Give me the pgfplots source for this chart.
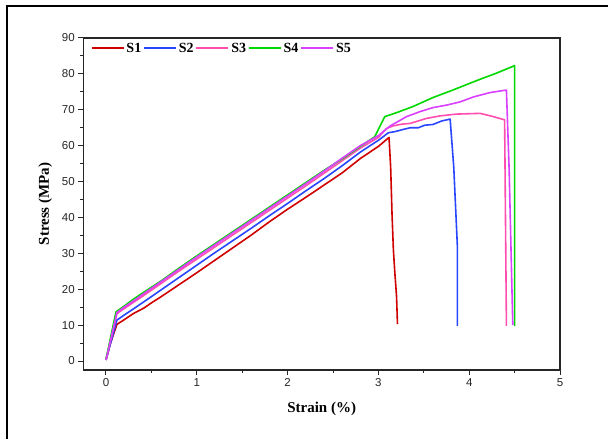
\documentclass[border=0pt]{standalone}
\usepackage{fontspec}
\setmainfont{Liberation Serif}
\newfontfamily\arial{Liberation Sans}
\usepackage{pgfplots}
\pgfplotsset{compat=1.18}

\definecolor{sred}{RGB}{208,0,0}
\definecolor{sblue}{RGB}{40,70,255}
\definecolor{spink}{RGB}{255,77,176}
\definecolor{sgreen}{RGB}{0,216,0}
\definecolor{sviolet}{RGB}{218,64,255}

\begin{document}
\begin{tikzpicture}
\begin{axis}[
  scale only axis,
  width=476.7pt, height=332pt,
  xmin=-0.25, xmax=5, ymin=-2.5, ymax=90,
  xtick={0,1,2,3,4,5}, ytick={0,10,...,90},
  minor x tick num=1, minor y tick num=1,
  tick align=outside, tick pos=left,
  major tick length=5pt, minor tick length=3pt,
  axis line style={line width=1.1pt, black!85},
  every tick/.style={line width=1pt, black!85},
  /pgf/number format/assume math mode=true,
  ticklabel style={font=\arial\fontsize{11.5}{12}\selectfont, text=black!85},
  xlabel={\textbf{Strain (\%)}},
  ylabel={\textbf{Stress (MPa)}},
  label style={font=\fontsize{15}{16}\selectfont},
  xlabel style={at={(axis description cs:0.5,-0.1295)}, anchor=base},
  ylabel style={at={(axis description cs:-0.0797,0.5)}, anchor=center},
  legend columns=-1,
  legend image code/.code={\draw[#1, line width=1.6pt] (0pt,0pt) -- (32pt,0pt);},
  legend style={draw=none, fill=none, inner sep=0pt,
                at={(axis description cs:0.0155,0.969)}, anchor=west,
                font=\fontsize{14}{15}\selectfont\bfseries,
                nodes={inner sep=2pt},
                /tikz/every even column/.append style={column sep=0pt}},
  every axis plot/.append style={line width=1.6pt, line join=round},
]
% S1
\addplot[sred] coordinates {
  (0,0.3) (0.05,5) (0.12,10.2) (0.2,11.5) (0.3,13.2) (0.42,14.8) (0.5,16.2)
  (0.6,17.8) (0.8,21.2) (1.0,24.6) (1.2,28.1) (1.4,31.6) (1.6,35.1) (1.8,38.8)
  (2.0,42.3) (2.2,45.6) (2.4,49.0) (2.6,52.4) (2.8,56.4) (3.0,59.8) (3.117,62.3)
  (3.135,54) (3.15,41) (3.165,31) (3.18,25) (3.2,18) (3.21,10.3)
};
% S2
\addplot[sblue] coordinates {
  (0,0.3) (0.12,11.4) (0.2,12.8) (0.3,14.5) (0.4,16.2) (0.6,19.7) (0.8,23.2)
  (1.0,26.7) (1.2,30.2) (1.4,33.6) (1.6,37.0) (1.8,40.5) (2.0,43.9) (2.2,47.4)
  (2.4,50.8) (2.6,54.4) (2.8,58.2) (3.0,61.5) (3.11,63.6) (3.18,63.9) (3.27,64.5)
  (3.35,65) (3.44,65) (3.51,65.7) (3.6,65.9) (3.7,66.9) (3.79,67.4) (3.83,54)
  (3.86,37.4) (3.87,31.8) (3.87,9.8)
};
% S3
\addplot[spink] coordinates {
  (0,0.3) (0.12,13.2) (0.2,14.6) (0.3,16.3) (0.4,18.0) (0.6,21.5) (0.8,25.0)
  (1.0,28.4) (1.2,31.8) (1.4,35.2) (1.6,38.6) (1.8,42.0) (2.0,45.4) (2.2,48.8)
  (2.4,52.3) (2.6,55.8) (2.8,59.3) (3.0,62.3) (3.09,64.8) (3.16,65.5) (3.26,66)
  (3.35,66.2) (3.44,66.9) (3.53,67.6) (3.68,68.3) (3.86,68.8) (4.12,69.0)
  (4.25,68.2) (4.39,67.2) (4.41,9.8)
};
% S4
\addplot[sgreen] coordinates {
  (0,0.5) (0.11,13.7) (0.2,15.3) (0.3,17.2) (0.4,18.9) (0.6,22.2) (0.8,25.8)
  (1.0,29.3) (1.2,32.7) (1.4,36.1) (1.6,39.5) (1.8,42.9) (2.0,46.3) (2.2,49.7)
  (2.4,53.1) (2.6,56.3) (2.8,59.8) (2.96,62.5) (3.07,68.1) (3.2,69.2) (3.38,70.9)
  (3.6,73.4) (3.8,75.3) (3.93,76.6) (4.12,78.5) (4.3,80.2) (4.5,82.3) (4.5,9.7)
};
% S5
\addplot[sviolet] coordinates {
  (0,0.3) (0.12,13.5) (0.2,15.0) (0.3,16.7) (0.4,18.5) (0.6,22.0) (0.8,25.5)
  (1.0,29.0) (1.2,32.4) (1.4,35.8) (1.6,39.2) (1.8,42.6) (2.0,46.0) (2.2,49.4)
  (2.4,52.9) (2.6,56.5) (2.8,60.0) (3.0,62.8) (3.13,65.5) (3.31,68.1) (3.46,69.5)
  (3.6,70.6) (3.75,71.3) (3.9,72.2) (4.05,73.6) (4.23,74.8) (4.41,75.5)
  (4.44,53.2) (4.48,10.0)
};
\legend{S1,S2,S3,S4,S5}
\end{axis}
% outer frame, cut off at right and bottom
\draw[line width=2pt] (-76.3pt,-90pt) -- (-76.3pt,364pt) -- (560pt,364pt);
\pgfresetboundingbox
\useasboundingbox (-83.3pt,-69pt) rectangle (524.7pt,370pt);
\end{tikzpicture}
\end{document}
